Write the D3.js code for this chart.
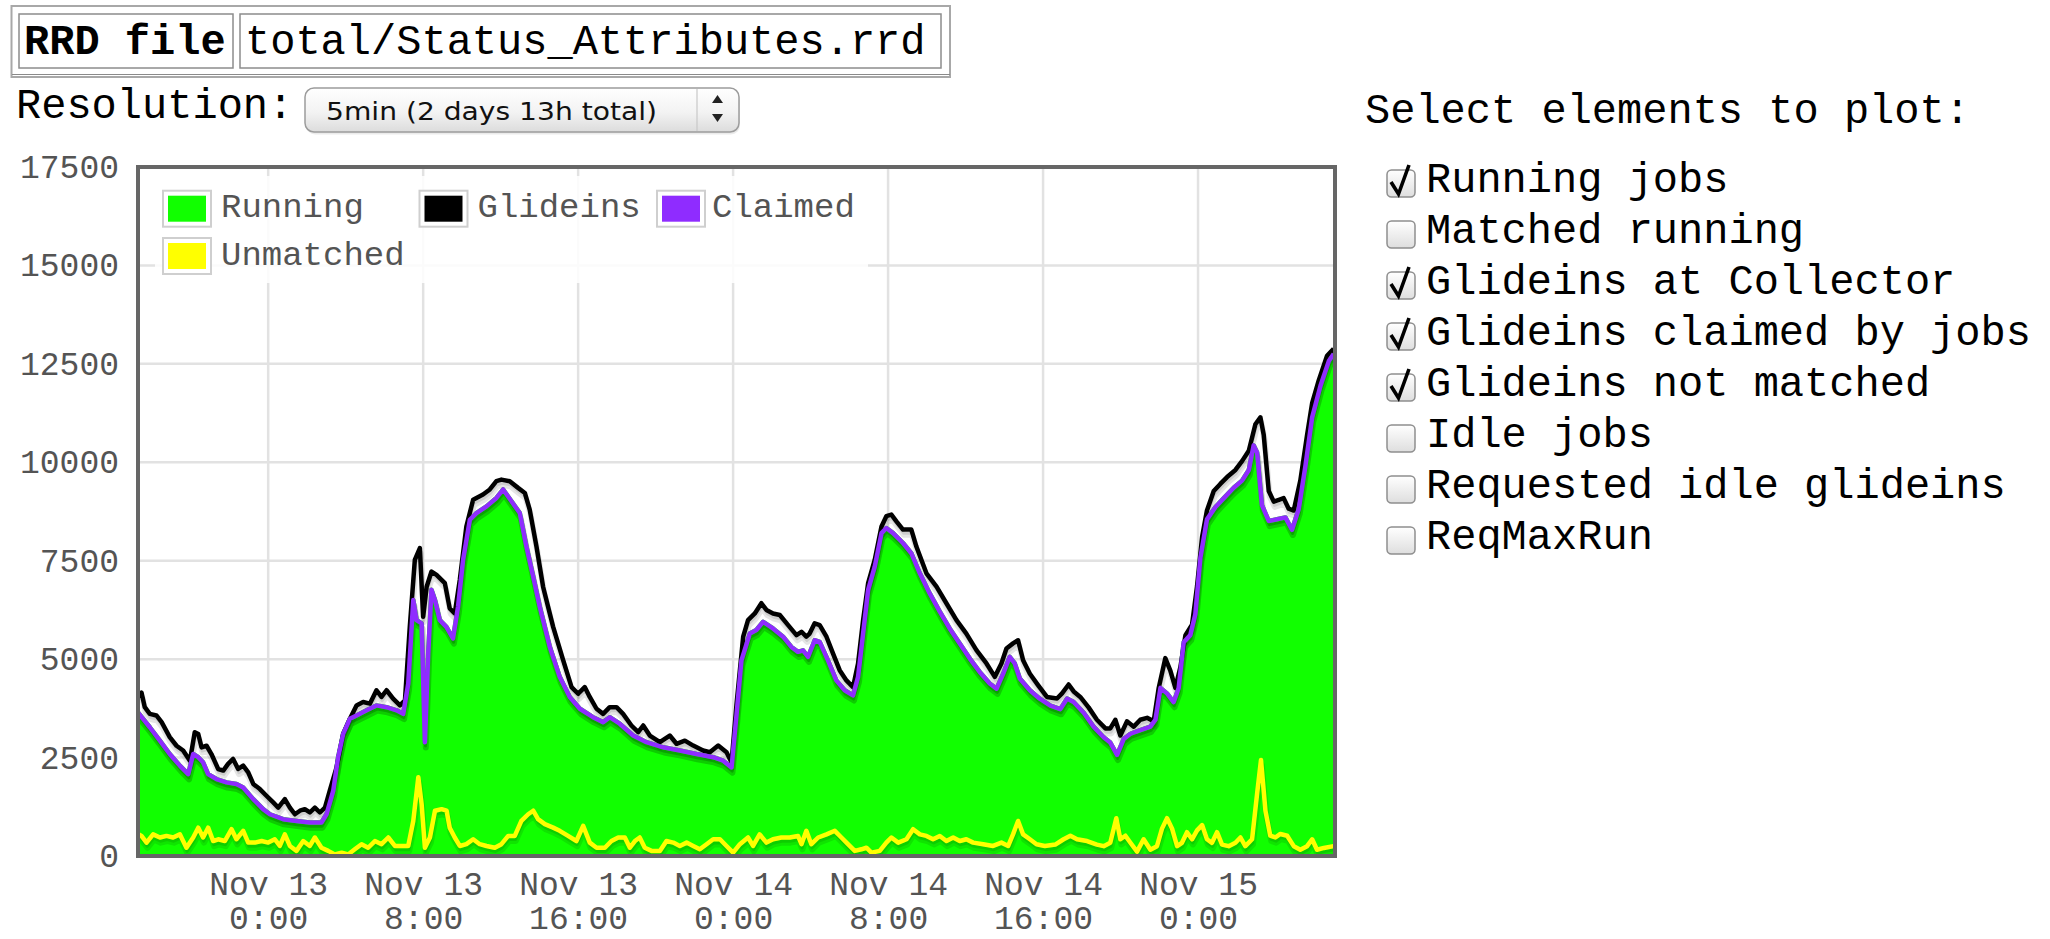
<!DOCTYPE html>
<html><head><meta charset="utf-8">
<script src="https://cdn.jsdelivr.net/npm/d3@7"></script>
<style>
html,body{margin:0;padding:0;background:#fff;}
svg{display:block;}
</style></head>
<body>
<svg id="c" width="2050" height="939"></svg>
<script>
// ---------------- DATA ----------------
const rrdFile = "total/Status_Attributes.rrd";
const resolutionText = "5min (2 days 13h total)";
const yTickValues = [0, 2500, 5000, 7500, 10000, 12500, 15000, 17500];
const xTickHours = [0, 8, 16, 24, 32, 40, 48];          // hours after Nov 13 0:00
const timeDomainHours = [-6.72, 55.07];
const seriesNames = ["Running", "Glideins", "Claimed", "Unmatched"];
const seriesColors = ["#11ff00", "#000000", "#8f2cff", "#ffff00"];
const plotElements = ["Running jobs", "Matched running", "Glideins at Collector", "Glideins claimed by jobs",
  "Glideins not matched", "Idle jobs", "Requested idle glideins", "ReqMaxRun"];
const plotChecked = [true, false, true, true, true, false, false, false];

const glideinHours = [-6.72,-6.54,-6.37,-6.11,-5.77,-5.5,-5.08,-4.73,-4.39,-4.04,
 -3.79,-3.61,-3.44,-3.18,-2.93,-2.58,-2.32,-2.07,-1.81,-1.55,
 -1.29,-1.03,-0.77,-0.43,-0.09,0.26,0.52,0.86,1.12,1.38,
 1.64,1.89,2.15,2.41,2.67,2.93,3.18,3.53,3.87,4.22,
 4.56,4.9,5.25,5.59,5.85,6.11,6.45,6.8,7.06,7.31,
 7.57,7.83,8.0,8.18,8.43,8.69,9.12,9.37,9.63,9.89,
 10.23,10.58,11.09,11.44,11.78,12.04,12.47,12.9,13.25,13.5,
 13.85,14.19,14.71,15.23,15.66,16.0,16.34,16.6,16.95,17.29,
 17.63,17.98,18.32,18.75,19.1,19.36,19.7,20.22,20.73,21.08,
 21.51,21.94,22.45,22.8,23.23,23.66,23.92,24.18,24.52,24.77,
 25.12,25.46,25.72,26.06,26.41,26.84,27.27,27.53,27.78,27.95,
 28.21,28.47,28.82,29.16,29.5,29.85,30.19,30.45,30.71,30.97,
 31.31,31.66,31.91,32.17,32.43,32.77,33.2,33.46,33.98,34.5,
 35.01,35.53,36.04,36.56,37.08,37.51,37.85,38.11,38.45,38.71,
 38.97,39.32,39.75,40.2,40.72,40.98,41.32,41.58,41.92,42.35,
 42.78,43.22,43.47,43.73,43.99,44.33,44.68,45.02,45.37,45.71,
 45.97,46.31,46.57,46.83,47.09,47.35,47.69,47.95,48.21,48.46,
 48.81,49.15,49.5,49.93,50.27,50.62,50.96,51.22,51.39,51.65,
 51.91,52.17,52.42,52.68,52.94,53.28,53.63,53.89,54.23,54.66,
 55.0];
const glideinCounts = [4050,4150,3780,3610,3570,3400,3020,2800,2680,2420,
 3145,3100,2760,2800,2590,2210,2170,2340,2465,2210,
 2295,2125,1830,1700,1530,1360,1230,1445,1230,1060,
 1150,1190,1105,1230,1105,1230,1660,2250,3100,3485,
 3825,3910,3870,4210,4040,4210,3995,3825,3950,5820,
 7520,7820,6075,6840,7225,7140,6930,6290,6160,7010,
 8370,9050,9180,9310,9520,9560,9520,9350,9220,8800,
 7860,6840,5820,4970,4290,4120,4290,4040,3740,3610,
 3780,3780,3610,3315,3145,3315,3060,2890,3060,2850,
 2930,2805,2680,2635,2805,2635,2380,3870,5570,5990,
 6160,6420,6250,6160,6120,5865,5610,5695,5570,5650,
 5910,5865,5570,5140,4720,4460,4290,4890,5990,6930,
 7520,8370,8630,8670,8500,8290,8290,7860,7180,6840,
 6420,5990,5650,5230,4890,4550,4890,5270,5400,5480,
 4970,4630,4335,4040,4000,4130,4356,4180,4040,3775,
 3460,3240,3240,3460,3060,3420,3285,3460,3510,3420,
 4270,5025,4710,4270,4800,5610,5875,6855,8105,8775,
 9270,9450,9625,9805,10030,10295,10965,11140,10700,9270,
 9000,9045,9090,8820,8775,9535,10700,11500,12080,12705,
 12885];

const claimedHours = [-6.72,-6.11,-5.59,-5.08,-4.56,-4.13,-3.87,-3.61,-3.36,-3.1,
 -2.67,-2.15,-1.64,-1.29,-0.77,-0.26,0.09,0.77,1.46,2.15,
 2.75,3.01,3.36,3.61,3.87,4.22,4.56,5.08,5.59,6.11,
 6.63,6.97,7.23,7.49,7.66,7.92,8.09,8.26,8.43,8.61,
 8.86,9.2,9.54,9.8,10.06,10.41,10.75,11.27,11.78,12.13,
 12.56,12.99,13.33,13.68,14.02,14.54,15.05,15.57,16.09,16.77,
 17.29,17.63,18.15,18.84,19.53,20.39,21.25,22.11,22.97,23.49,
 23.92,24.18,24.43,24.86,25.2,25.55,26.06,26.58,27.01,27.35,
 27.61,27.87,28.21,28.47,28.9,29.33,29.76,30.19,30.45,30.71,
 30.97,31.31,31.66,31.91,32.26,32.77,33.2,33.64,34.15,34.67,
 35.18,35.7,36.22,36.73,37.25,37.6,37.94,38.28,38.54,38.8,
 39.32,39.83,40.38,40.89,41.24,41.58,42.1,42.61,43.13,43.47,
 43.82,44.16,44.51,45.02,45.54,45.8,46.06,46.4,46.74,47.0,
 47.26,47.6,47.86,48.12,48.46,48.9,49.33,49.84,50.27,50.62,
 50.87,51.05,51.3,51.65,52.08,52.51,52.85,53.2,53.54,53.89,
 54.32,54.75,55.0];
const claimedCounts = [3650,3270,2930,2590,2295,2080,2590,2510,2380,2080,
 1955,1870,1830,1740,1445,1190,1060,935,890,850,
 850,1060,1660,2510,3100,3485,3570,3700,3825,3780,
 3700,3610,4380,6500,5990,5910,2890,5140,6760,6500,
 5990,5820,5525,6330,7520,8540,8710,8880,9095,9310,
 9010,8710,7860,7100,6330,5310,4550,4040,3740,3525,
 3400,3525,3360,3060,2890,2760,2680,2590,2510,2420,
 2250,3610,4970,5650,5740,5950,5780,5570,5310,5185,
 5225,5060,5480,5440,4970,4460,4210,4080,4550,5650,
 6760,7350,8200,8330,8200,7950,7690,7180,6670,6205,
 5780,5400,5015,4675,4380,4250,4630,5060,4890,4510,
 4210,3995,3820,3730,4000,3910,3640,3285,3015,2880,
 2570,2970,3105,3195,3285,3460,4270,4130,3910,4270,
 5430,5610,6140,7570,8550,8865,9090,9355,9535,9805,
 10430,10250,8910,8510,8555,8600,8285,8820,9895,11140,
 11945,12570,12750];
// running jobs, sampled at the same times as claimedHours
const runningCounts = [3650,3270,2930,2590,2295,2080,2590,2510,2380,2080,
 1955,1870,1830,1740,1445,1190,1060,935,890,850,
 850,1060,1660,2510,3100,3485,3570,3700,3825,3780,
 3700,3610,4380,6500,5990,5910,2890,5140,6760,6500,
 5990,5820,5525,6330,7520,8540,8710,8880,9095,9310,
 9010,8710,7860,7100,6330,5310,4550,4040,3740,3525,
 3400,3525,3360,3060,2890,2760,2680,2590,2510,2420,
 2250,3610,4970,5650,5740,5950,5780,5570,5310,5185,
 5225,5060,5480,5440,4970,4460,4210,4080,4550,5650,
 6760,7350,8200,8330,8200,7950,7690,7180,6670,6205,
 5780,5400,5015,4675,4380,4250,4630,5060,4890,4510,
 4210,3995,3820,3730,4000,3910,3640,3285,3015,2880,
 2570,2970,3105,3195,3285,3460,4270,4130,3910,4270,
 5430,5610,6140,7570,8550,8865,9090,9355,9535,9805,
 10430,10250,8910,8510,8555,8600,8285,8820,9895,11140,
 11945,12570,12750];

const unmatchedHours = [-6.72,-6.54,-6.28,-5.94,-5.59,-5.25,-4.91,-4.56,-4.22,-3.87,
 -3.61,-3.36,-3.1,-2.84,-2.58,-2.24,-1.89,-1.64,-1.29,-1.03,
 -0.69,-0.34,0.0,0.34,0.6,0.86,1.12,1.46,1.81,2.15,
 2.41,2.75,3.1,3.44,3.79,4.13,4.47,4.82,5.16,5.51,
 5.85,6.2,6.54,6.88,7.23,7.49,7.75,7.92,8.09,8.35,
 8.61,8.95,9.21,9.37,9.63,9.89,10.23,10.58,10.92,11.27,
 11.7,12.04,12.39,12.73,13.07,13.42,13.68,13.93,14.28,14.71,
 15.05,15.48,15.91,16.26,16.6,16.95,17.38,17.72,18.07,18.41,
 18.67,18.93,19.18,19.44,19.79,20.22,20.56,20.91,21.25,21.6,
 21.94,22.28,22.63,22.97,23.32,23.66,24.0,24.35,24.77,25.03,
 25.37,25.72,26.06,26.49,26.92,27.35,27.53,27.78,28.04,28.39,
 28.82,29.25,29.59,29.93,30.28,30.62,30.88,31.14,31.57,31.91,
 32.17,32.52,32.95,33.29,33.64,33.98,34.32,34.67,35.01,35.36,
 35.7,36.04,36.39,36.91,37.42,37.85,38.2,38.45,38.71,38.97,
 39.32,39.66,40.09,40.63,41.06,41.41,41.75,42.27,42.78,43.13,
 43.47,43.78,43.99,44.25,44.51,44.85,45.19,45.54,45.88,46.14,
 46.4,46.66,46.92,47.17,47.43,47.69,47.95,48.21,48.46,48.72,
 48.98,49.24,49.58,49.93,50.19,50.44,50.79,51.05,51.25,51.48,
 51.73,51.99,52.25,52.6,52.94,53.28,53.63,53.89,54.14,54.49,
 55.0];
const unmatchedCounts = [560,510,340,550,470,510,470,550,210,470,
 720,470,720,380,425,380,680,425,640,340,
 340,380,340,425,255,550,255,130,380,255,
 470,210,130,40,85,40,170,300,210,380,
 300,470,255,255,255,890,2000,1320,210,470,
 1150,1190,1150,720,470,255,300,425,300,255,
 210,300,510,510,890,1060,1150,935,810,720,
 640,510,380,765,340,210,210,380,470,470,
 210,380,470,210,130,130,380,340,255,340,
 255,170,300,425,425,255,85,300,470,255,
 550,340,425,470,470,510,300,640,300,470,
 550,640,470,300,130,170,210,85,130,340,
 470,340,425,680,550,510,425,510,380,470,
 380,425,340,300,255,340,255,550,890,550,
 425,300,255,290,425,515,425,380,290,250,
 335,960,425,515,335,110,425,160,250,695,
 960,695,250,335,605,425,650,785,425,335,
 605,290,250,335,470,250,425,1590,2440,1145,
 515,470,560,515,250,160,250,425,160,205,
 250];

// ---------------- DRAWING ----------------
const MONO = "'Liberation Mono','Courier New',monospace";
const t0 = Date.UTC(2012, 10, 13, 0, 0);
const toDate = h => new Date(t0 + h * 3600e3);
const zipPts = (hs, vs) => d3.range(Math.min(hs.length, vs.length)).map(i => ({t: toDate(hs[i]), v: vs[i]}));

const svg = d3.select("#c");
svg.append("rect").attr("width", 2050).attr("height", 939).attr("fill", "#fff");
const defs = svg.append("defs");
const g1 = defs.append("linearGradient").attr("id", "selGrad").attr("x1", 0).attr("y1", 0).attr("x2", 0).attr("y2", 1);
g1.append("stop").attr("offset", "0%").attr("stop-color", "#ffffff");
g1.append("stop").attr("offset", "55%").attr("stop-color", "#f3f3f3");
g1.append("stop").attr("offset", "100%").attr("stop-color", "#dcdcdc");
const g2 = defs.append("linearGradient").attr("id", "cbGrad").attr("x1", 0).attr("y1", 0).attr("x2", 0).attr("y2", 1);
g2.append("stop").attr("offset", "0%").attr("stop-color", "#ffffff");
g2.append("stop").attr("offset", "100%").attr("stop-color", "#dedede");

// ----- header table -----
svg.append("rect").attr("x", 11.5).attr("y", 6).attr("width", 938.5).attr("height", 71)
  .attr("fill", "none").attr("stroke", "#a8a8a8").attr("stroke-width", 2);
svg.append("line").attr("x1", 12).attr("x2", 950).attr("y1", 74.5).attr("y2", 74.5).attr("stroke", "#8a8a8a").attr("stroke-width", 1.2);
svg.append("rect").attr("x", 19).attr("y", 14).attr("width", 214).attr("height", 54)
  .attr("fill", "none").attr("stroke", "#8c8c8c").attr("stroke-width", 1.5);
svg.append("rect").attr("x", 240).attr("y", 14).attr("width", 701).attr("height", 54)
  .attr("fill", "none").attr("stroke", "#8c8c8c").attr("stroke-width", 1.5);
svg.append("text").attr("x", 24).attr("y", 54).attr("font-family", MONO).attr("font-size", 42)
  .attr("font-weight", "bold").attr("fill", "#000").text("RRD file");
svg.append("text").attr("x", 245).attr("y", 54).attr("font-family", MONO).attr("font-size", 42)
  .attr("fill", "#000").text(rrdFile);

// ----- resolution selector -----
svg.append("text").attr("x", 16).attr("y", 118).attr("font-family", MONO).attr("font-size", 42)
  .attr("fill", "#000").text("Resolution:");
svg.append("rect").attr("x", 306).attr("y", 89).attr("width", 434).attr("height", 44).attr("rx", 9)
  .attr("fill", "rgba(0,0,0,0.08)").attr("transform", "translate(0,1.5)");
svg.append("rect").attr("x", 305).attr("y", 88).attr("width", 434).attr("height", 44).attr("rx", 9)
  .attr("fill", "url(#selGrad)").attr("stroke", "#9c9c9c").attr("stroke-width", 1.5);
svg.append("line").attr("x1", 697).attr("x2", 697).attr("y1", 89).attr("y2", 131).attr("stroke", "#c8c8c8").attr("stroke-width", 1.2);
svg.append("path").attr("d", "M712,103 L717.5,95 L723,103 Z").attr("fill", "#222");
svg.append("path").attr("d", "M712,114 L717.5,122 L723,114 Z").attr("fill", "#222");
svg.append("text").attr("x", 326).attr("y", 120).attr("font-family", "'DejaVu Sans','Open Sans',sans-serif")
  .attr("font-size", 24).attr("fill", "#111").attr("textLength", 331).attr("lengthAdjust", "spacingAndGlyphs")
  .text(resolutionText);

// ----- element selection list -----
svg.append("text").attr("x", 1365).attr("y", 123).attr("font-family", MONO).attr("font-size", 42)
  .attr("fill", "#000").text("Select elements to plot:");
const rows = svg.append("g").selectAll("g").data(plotElements).join("g")
  .attr("transform", (d, i) => `translate(0,${182 + i * 51})`);
rows.append("rect").attr("x", 1387).attr("y", -12).attr("width", 28).attr("height", 27).attr("rx", 4.5)
  .attr("fill", "url(#cbGrad)").attr("stroke", "#8e8e8e").attr("stroke-width", 1.5);
rows.filter((d, i) => plotChecked[i]).append("path")
  .attr("d", "M1391,0 L1398.5,12 L1409,-17").attr("fill", "none").attr("stroke", "#000")
  .attr("stroke-width", 3.6).attr("stroke-linejoin", "miter");
rows.append("text").attr("x", 1426).attr("y", 10).attr("font-family", MONO).attr("font-size", 42)
  .attr("fill", "#000").text(d => d);

// ----- chart -----
const L = 138, R = 1335, T = 167, B = 856;
const x = d3.scaleUtc().domain(timeDomainHours.map(toDate)).range([L, R]);
const y = d3.scaleLinear().domain([0, 17500]).range([B, T]);

defs.append("clipPath").attr("id", "plotClip").append("rect")
  .attr("x", L).attr("y", T).attr("width", R - L).attr("height", B - T);

// grid
const grid = svg.append("g");
grid.selectAll("line.h").data(yTickValues).join("line").attr("class", "h")
  .attr("x1", L).attr("x2", R).attr("y1", d => y(d)).attr("y2", d => y(d))
  .attr("stroke", "#e2e2e2").attr("stroke-width", 2.5);
grid.selectAll("line.v").data(xTickHours.map(toDate)).join("line").attr("class", "v")
  .attr("x1", d => x(d)).attr("x2", d => x(d)).attr("y1", T).attr("y2", B)
  .attr("stroke", "#e2e2e2").attr("stroke-width", 2.5);

const running = zipPts(claimedHours, runningCounts);
const glideins = zipPts(glideinHours, glideinCounts);
const claimed = zipPts(claimedHours, claimedCounts);
const unmatched = zipPts(unmatchedHours, unmatchedCounts);

const line = d3.line().x(d => x(d.t)).y(d => y(d.v));
const area = d3.area().x(d => x(d.t)).y0(y(0)).y1(d => y(d.v));

const plot = svg.append("g").attr("clip-path", "url(#plotClip)");
const LW = 4.5, SW = 6, ang = Math.PI / 18;
function drawSeries(data, color, fill) {
  if (fill) plot.append("path").datum(data).attr("d", area).attr("fill", color);
  [[SW, LW / 2 + SW / 2], [SW / 2, LW / 2 + SW / 4]].forEach(([w, off]) => {
    plot.append("path").datum(data).attr("d", line).attr("fill", "none")
      .attr("stroke", "rgba(0,0,0,0.1)").attr("stroke-width", w).attr("stroke-linejoin", "round")
      .attr("transform", `translate(${Math.sin(ang) * off},${Math.cos(ang) * off})`);
  });
  plot.append("path").datum(data).attr("d", line).attr("fill", "none")
    .attr("stroke", color).attr("stroke-width", LW).attr("stroke-linejoin", "round");
}
drawSeries(running, seriesColors[0], true);
drawSeries(glideins, seriesColors[1], false);
drawSeries(claimed, seriesColors[2], false);
drawSeries(unmatched, seriesColors[3], false);

// frame
svg.append("rect").attr("x", L).attr("y", T).attr("width", R - L).attr("height", B - T)
  .attr("fill", "none").attr("stroke", "#666").attr("stroke-width", 4);

// y axis
const yAxisG = svg.append("g").attr("transform", "translate(119,0)")
  .call(d3.axisLeft(y).tickValues(yTickValues).tickSize(0).tickPadding(0).tickFormat(d3.format("d")));
yAxisG.select(".domain").remove();
yAxisG.selectAll("text").attr("font-family", MONO).attr("font-size", 33).attr("fill", "#545454");

// x axis (two-line labels)
const fmtDay = d3.utcFormat("%b %d"), fmtHour = d3.utcFormat("%-H:%M");
const xAxisG = svg.append("g").attr("transform", `translate(0,${B})`)
  .call(d3.axisBottom(x).tickValues(xTickHours.map(toDate)).tickSize(0));
xAxisG.select(".domain").remove();
xAxisG.selectAll(".tick text").each(function (d) {
  const t = d3.select(this);
  t.text(null).attr("y", null).attr("dy", null).attr("font-family", MONO).attr("font-size", 33)
    .attr("fill", "#545454").attr("text-anchor", "middle");
  t.append("tspan").attr("x", 0).attr("y", 39).text(fmtDay(d));
  t.append("tspan").attr("x", 0).attr("y", 73).text(fmtHour(d));
});

// legend
const legend = svg.append("g");
legend.append("rect").attr("x", 155).attr("y", 176).attr("width", 713).attr("height", 107)
  .attr("fill", "#fff").attr("opacity", 0.85);
const legendPos = [[163, 208.7], [419.5, 208.7], [657, 208.7], [163, 256]];
const items = legend.selectAll("g.item").data(seriesNames).join("g").attr("class", "item")
  .attr("transform", (d, i) => `translate(${legendPos[i][0]},${legendPos[i][1]})`);
items.append("rect").attr("x", 0).attr("y", -18).attr("width", 48).attr("height", 36)
  .attr("fill", "#fff").attr("stroke", "#cfcfcf").attr("stroke-width", 2);
items.append("rect").attr("x", 5).attr("y", -13).attr("width", 38).attr("height", 26)
  .attr("fill", (d, i) => seriesColors[i]);
items.append("text").attr("x", (d, i) => i === 2 ? 55 : 58).attr("y", 8.5).attr("font-family", MONO)
  .attr("font-size", 34).attr("fill", "#545454").text(d => d);
</script>
</body></html>
